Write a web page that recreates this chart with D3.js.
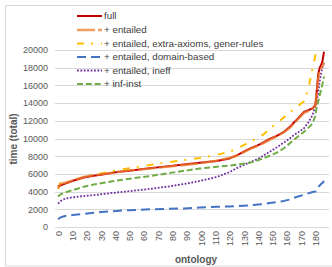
<!DOCTYPE html>
<html><head><meta charset="utf-8">
<script src="https://cdn.jsdelivr.net/npm/d3@7"></script>
<style>body{margin:0;background:#fff}svg{display:block}text{font-family:"Liberation Sans",Arial,sans-serif}</style>
</head><body><svg id="c" width="332" height="267"></svg>
<script>
const ontology = [0,2,5,10,18,25,30,41,50,64,76,88,99,111,120,125,134,140,144,148,153,158,162,165,168,172,175,178,180,181,182,183,184,185,186];
const full     = [4600,4700,4900,5200,5600,5800,5900,6200,6350,6650,6850,7050,7250,7450,7750,8100,8850,9250,9600,9950,10300,10750,11300,11800,12300,13000,13200,13400,13800,15500,17300,18000,18300,18800,19800];
const entailed = [4400,4900,5000,5250,5650,5850,5950,6200,6400,6600,6800,7000,7200,7500,7800,8050,8800,9200,9500,9850,10250,10700,11200,11700,12200,12900,13100,13400,13700,15200,16800,17600,17900,18200,18600];
const extraAx  = [4300,5100,4900,5300,5600,5900,6050,6400,6650,7000,7300,7550,7800,8150,8500,8850,9600,10100,10500,11100,11700,12400,12950,13300,13700,14200,15600,17900,19400,20500,21500,22000,22500,23000,24000];
const domain   = [900,1100,1250,1350,1480,1600,1700,1820,1900,2000,2050,2100,2200,2280,2320,2370,2450,2550,2600,2700,2800,2950,3100,3300,3450,3650,3800,3950,4000,4200,4550,4700,4850,5000,5200];
const ineff    = [2650,2950,3200,3350,3500,3600,3700,3900,4050,4300,4550,4850,5200,5650,6200,6650,7300,7700,8100,8500,9000,9550,10000,10400,10700,11150,11800,12650,13700,14200,15200,16500,17400,18100,18600];
const infInst  = [3450,3700,3900,4150,4550,4800,4950,5250,5450,5750,6050,6350,6600,6800,6950,7050,7250,7550,7800,8050,8400,8900,9450,9850,10250,10750,11200,11700,12600,13600,14200,14900,15500,16200,17000];
const seriesNames = ["full","+ entailed","+ entailed, extra-axioms, gener-rules","+ entailed, domain-based","+ entailed, ineff","+ inf-inst"];
const yTicks = [0,2000,4000,6000,8000,10000,12000,14000,16000,18000,20000];
const xTicks = [0,10,20,30,40,50,60,70,80,90,100,110,120,130,140,150,160,170,180];

const styles = [
  {c:"#C00000", w:2, d:null, o:1},
  {c:"#ED7D31", w:2.4, d:"18,3", o:0.75},
  {c:"#FFC000", w:2, d:"7,7,2,8", o:1},
  {c:"#4472C4", w:2, d:"9,5", o:1},
  {c:"#7030A0", w:1.8, d:"1.8,1.6", o:1},
  {c:"#70AD47", w:2, d:"6,2.8", o:1}
];
const values = [full, entailed, extraAx, domain, ineff, infInst];
const series = seriesNames.map((n,k)=>({name:n, vals:values[k], st:styles[k]}));

const svg = d3.select("#c");
svg.append("rect").attr("x",5.5).attr("y",5.5).attr("width",340).attr("height",260.5)
  .attr("fill","#fff").attr("stroke","#D9D9D9");

const x = d3.scaleLinear().domain([0,186]).range([58,324]);
const y = d3.scaleLinear().domain([0,20000]).range([227,50]);

svg.append("g").selectAll("line").data(yTicks).join("line")
  .attr("x1",55).attr("x2",329).attr("y1",d=>Math.round(y(d))+0.5).attr("y2",d=>Math.round(y(d))+0.5)
  .attr("stroke","#D9D9D9").attr("stroke-width",1);

const yAxis = d3.axisLeft(y).tickValues(yTicks).tickSize(0).tickPadding(0).tickFormat(d3.format("d"));
const ya = svg.append("g").attr("transform","translate(48,0)").call(yAxis);
ya.select(".domain").remove();
ya.selectAll("text").attr("font-size",9).attr("fill","#595959").attr("font-family","Liberation Sans, Arial, sans-serif");

const xAxis = d3.axisBottom(x).tickValues(xTicks).tickSize(0).tickPadding(0).tickFormat(d3.format("d"));
const xa = svg.append("g").attr("transform","translate(0,231)").call(xAxis);
xa.select(".domain").remove();
xa.selectAll("text").attr("font-size",9).attr("fill","#595959").attr("font-family","Liberation Sans, Arial, sans-serif")
  .attr("transform","rotate(-90)").attr("text-anchor","end").attr("x",0).attr("y",0).attr("dy","0.35em");

svg.append("text").attr("x",196).attr("y",263).attr("text-anchor","middle")
  .attr("font-size",10).attr("font-weight","bold").attr("fill","#595959").text("ontology");
svg.append("text").attr("transform","translate(17,139) rotate(-90)").attr("text-anchor","middle")
  .attr("font-size",10).attr("font-weight","bold").attr("fill","#595959").text("time (total)");

svg.append("clipPath").attr("id","clip").append("rect").attr("x",50).attr("y",49).attr("width",282).attr("height",190);

const line = d3.line().x((d,i)=>x(ontology[i])).y(d=>y(d));
const plot = svg.append("g").attr("clip-path","url(#clip)");
[3,4,5,2,0,1].forEach(k=>{
  const s = series[k];
  plot.append("path").attr("d",line(s.vals)).attr("fill","none")
    .attr("stroke",s.st.c).attr("stroke-width",s.st.w).attr("stroke-opacity",s.st.o)
    .attr("stroke-dasharray",s.st.d).attr("stroke-linejoin","round");
});

const lg = svg.append("g");
const rowsY = [16,30,43.5,57,70.5,84];
series.forEach((s,k)=>{
  lg.append("line").attr("x1",77).attr("x2",102).attr("y1",rowsY[k]).attr("y2",rowsY[k])
    .attr("stroke",s.st.c).attr("stroke-width",s.st.w).attr("stroke-opacity",s.st.o).attr("stroke-dasharray",s.st.d);
  lg.append("text").attr("x",104).attr("y",rowsY[k]).attr("dy","0.35em")
    .attr("font-size",9.8).attr("fill","#404040").text(s.name);
});
</script></body></html>
